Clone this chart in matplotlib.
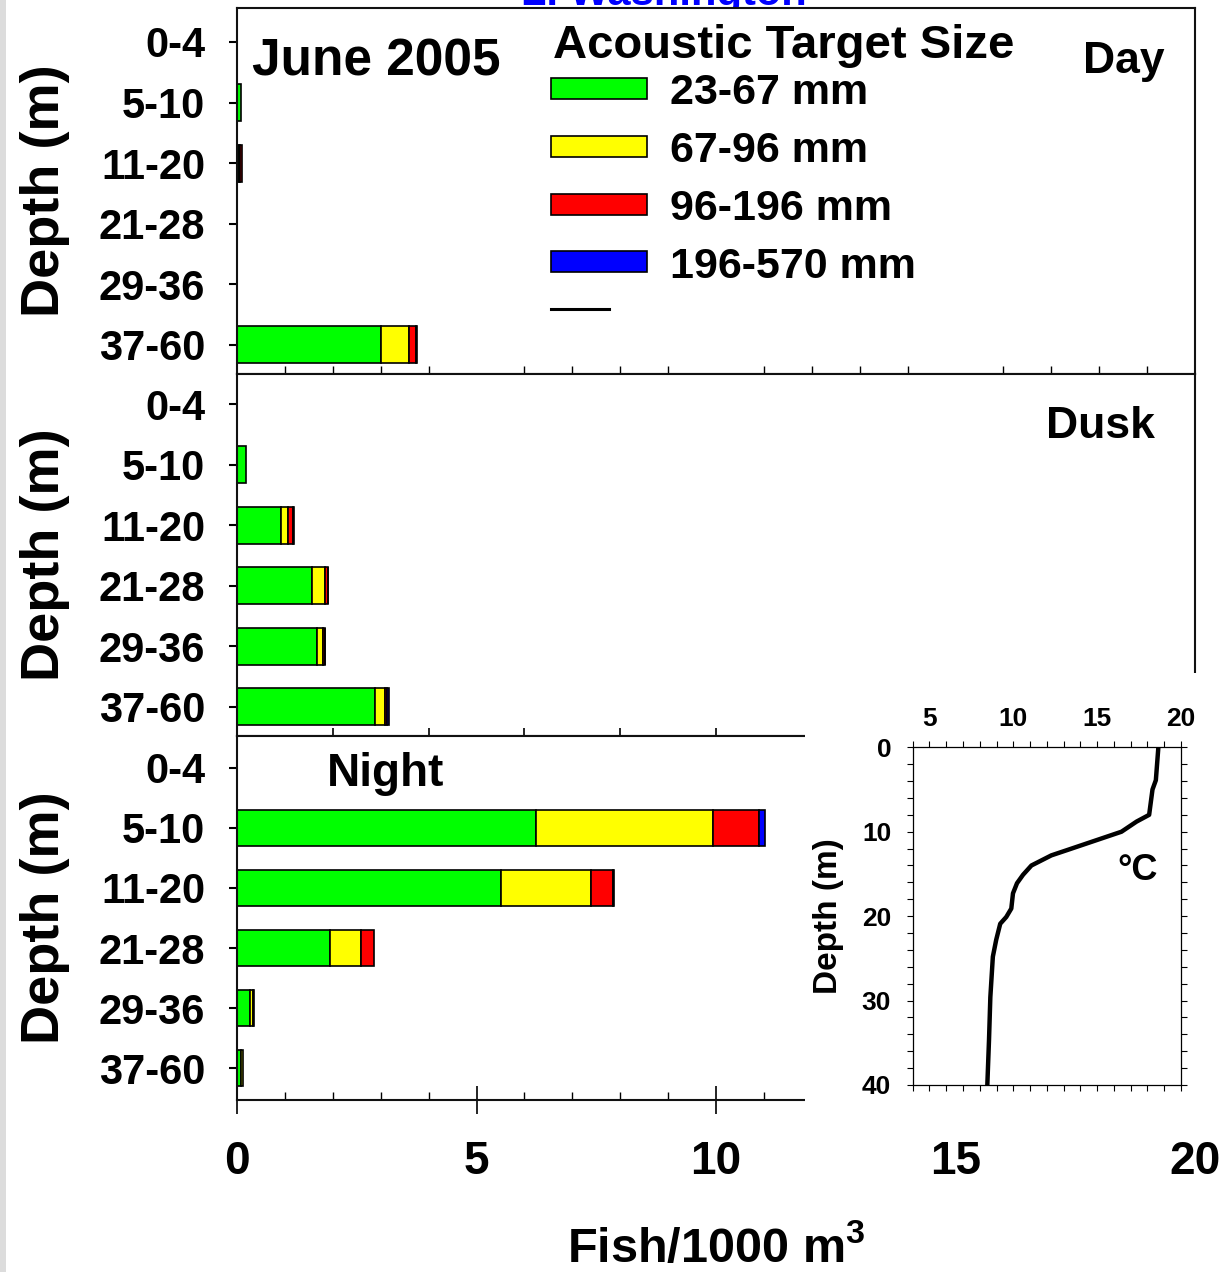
import matplotlib

matplotlib.use("Agg")
import matplotlib.pyplot as plt
from matplotlib.lines import Line2D
from matplotlib.patches import Rectangle
from matplotlib.ticker import MultipleLocator

W, H = 1225, 1272

DEPTH_BINS = ["0-4", "5-10", "11-20", "21-28", "29-36", "37-60"]
SIZE_CLASSES = ["23-67 mm", "67-96 mm", "96-196 mm", "196-570 mm"]
SIZE_COLORS = ["#00ff00", "#ffff00", "#ff0000", "#0000ff"]

# fish density (fish / 1000 m^3) per depth bin, by acoustic target size
day_23_67 = [0, 0.08, 0.05, 0, 0, 3.00]
day_67_96 = [0, 0, 0.01, 0, 0, 0.59]
day_96_196 = [0, 0, 0.04, 0, 0, 0.14]
day_196_570 = [0, 0, 0, 0, 0, 0.03]

dusk_23_67 = [0, 0.19, 0.92, 1.57, 1.66, 2.89]
dusk_67_96 = [0, 0, 0.14, 0.27, 0.14, 0.19]
dusk_96_196 = [0, 0, 0.10, 0.05, 0.03, 0.06]
dusk_196_570 = [0, 0, 0.03, 0.02, 0.01, 0.04]

night_23_67 = [0, 6.24, 5.52, 1.95, 0.28, 0.09]
night_67_96 = [0, 3.70, 1.87, 0.64, 0.05, 0.03]
night_96_196 = [0, 0.96, 0.46, 0.28, 0.03, 0]
night_196_570 = [0, 0.12, 0.02, 0, 0, 0]

# temperature profile
temp_depth = [0, 3.9, 5, 8, 8.8, 10, 11, 12.2, 12.8, 14, 15.1, 16.1, 17.3, 19.1,
              20.1, 20.9, 22.8, 24.8, 29.6, 34.7, 40]
temp_c = [18.65, 18.5, 18.3, 18.1, 17.35, 16.45, 14.96, 13.17, 12.27, 11.08, 10.58,
          10.22, 9.98, 9.88, 9.58, 9.22, 8.98, 8.78, 8.63, 8.55, 8.45]

BAR_HEIGHT = 0.61


def _fx(px):
    return px / W


def _fy(py):
    return 1 - py / H


def _rect(left, top, right, bottom):
    return [left / W, 1 - bottom / H, (right - left) / W, (bottom - top) / H]


def _draw_bars(ax, stacks):
    left = [0.0] * len(DEPTH_BINS)
    for values, color in zip(stacks, SIZE_COLORS):
        idx = [i for i, v in enumerate(values) if v > 0]
        ax.barh(idx, [values[i] for i in idx], left=[left[i] for i in idx],
                height=BAR_HEIGHT, color=color, edgecolor="black", linewidth=1.2)
        left = [a + b for a, b in zip(left, values)]


def _style_panel(fig, ax, ylim, top, bottom):
    ax.set_xlim(0, 20)
    ax.set_ylim(*ylim)
    ax.set_yticks(range(len(DEPTH_BINS)))
    ax.set_yticklabels(DEPTH_BINS)
    ax.tick_params(axis="y", direction="out", length=6, width=1.5, pad=17, labelsize=30)
    for sp in ax.spines.values():
        sp.set_linewidth(1.5)
        sp.set_color("#111111")
    fig.text(_fx(45), _fy((top + bottom) / 2), "Depth (m)", rotation=90,
             ha="center", va="center", fontsize=39)


def main():
    plt.rcParams["font.family"] = ["Liberation Sans", "DejaVu Sans"]
    plt.rcParams["font.weight"] = "bold"
    plt.rcParams["mathtext.fontset"] = "custom"
    plt.rcParams["mathtext.rm"] = "Liberation Sans:bold"
    plt.rcParams["mathtext.bf"] = "Liberation Sans:bold"
    plt.rcParams["mathtext.default"] = "bf"

    fig = plt.figure(figsize=(W / 100, H / 100), dpi=100)

    ax_day = fig.add_axes(_rect(237, 8, 1195, 374))
    ax_dusk = fig.add_axes(_rect(237, 374, 1195, 736))
    ax_night = fig.add_axes(_rect(237, 736, 1195, 1100))

    _draw_bars(ax_day, [day_23_67, day_67_96, day_96_196, day_196_570])
    _draw_bars(ax_dusk, [dusk_23_67, dusk_67_96, dusk_96_196, dusk_196_570])
    _draw_bars(ax_night, [night_23_67, night_67_96, night_96_196, night_196_570])

    _style_panel(fig, ax_day, (5.48, -0.56), 8, 374)
    _style_panel(fig, ax_dusk, (5.48, -0.5), 374, 736)
    _style_panel(fig, ax_night, (5.53, -0.53), 736, 1100)

    ax_day.xaxis.set_major_locator(MultipleLocator(5))
    ax_day.xaxis.set_minor_locator(MultipleLocator(1))
    ax_day.tick_params(axis="x", which="major", direction="out", length=10, width=1.2,
                       labelbottom=False)
    ax_day.tick_params(axis="x", which="minor", direction="in", length=5.5, width=1)

    ax_dusk.xaxis.set_major_locator(MultipleLocator(2))
    ax_dusk.tick_params(axis="x", direction="in", length=5.5, width=1.2, labelbottom=False)

    ax_night.xaxis.set_major_locator(MultipleLocator(5))
    ax_night.xaxis.set_minor_locator(MultipleLocator(1))
    ax_night.tick_params(axis="x", which="major", direction="inout", length=20, width=1.2,
                         labelsize=33, pad=19)
    ax_night.tick_params(axis="x", which="minor", direction="in", length=5.5, width=1)

    # panel labels
    fig.text(_fx(252), _fy(76), "June 2005", ha="left", va="baseline", fontsize=37)
    fig.text(_fx(1165), _fy(73), "Day", ha="right", va="baseline", fontsize=32)
    fig.text(_fx(1155), _fy(438), "Dusk", ha="right", va="baseline", fontsize=32)
    fig.text(_fx(327), _fy(786), "Night", ha="left", va="baseline", fontsize=33)

    # size-class key
    fig.text(_fx(553), _fy(58), "Acoustic Target Size", ha="left", va="baseline",
             fontsize=34)
    for k, (label, color) in enumerate(zip(SIZE_CLASSES, SIZE_COLORS)):
        yc = 88 + 58 * k
        fig.patches.append(Rectangle((_fx(551), _fy(yc + 10.5)), 96 / W, 21 / H,
                                     transform=fig.transFigure, facecolor=color,
                                     edgecolor="black", linewidth=1.2, zorder=3))
        fig.text(_fx(670), _fy(yc + 15.5), label, ha="left", va="baseline", fontsize=31)
    fig.lines.append(Line2D([_fx(551), _fx(609)], [_fy(309), _fy(309)],
                            transform=fig.transFigure, color="black", linewidth=2.2))

    fig.text(_fx(716), _fy(1262), "Fish/1000 m$^{3}$", ha="center", va="baseline",
             fontsize=35)

    fig.text(_fx(664), _fy(5), "L. Washington", ha="center", va="baseline",
             fontsize=30, color="#0000ff", zorder=-1)

    # blank area behind the temperature profile
    fig.patches.append(Rectangle((_fx(805), _fy(1115)), 1 - _fx(805), (1115 - 673) / H,
                                 transform=fig.transFigure, facecolor="white",
                                 edgecolor="none", zorder=1))
    fig.patches.append(Rectangle((0, 0), 6 / W, 1, transform=fig.transFigure,
                                 facecolor="#dcdcdc", edgecolor="none", zorder=4))

    ins = fig.add_axes(_rect(912.7, 747.3, 1181, 1085), zorder=2)
    ins.plot(temp_c, temp_depth, color="black", linewidth=3.2)
    ins.set_xlim(4, 20)
    ins.set_ylim(40, 0)
    ins.set_xticks([5, 10, 15, 20])
    ins.xaxis.set_minor_locator(MultipleLocator(1))
    ins.set_yticks([0, 10, 20, 30, 40])
    ins.yaxis.set_minor_locator(MultipleLocator(2))
    ins.tick_params(which="both", direction="out", length=4.5, width=0.8,
                    top=True, bottom=True, left=True, right=True,
                    labeltop=True, labelbottom=False, labelsize=19)
    ins.tick_params(axis="x", pad=7)
    ins.tick_params(axis="y", pad=11)
    for sp in ins.spines.values():
        sp.set_linewidth(0.9)
    ins.text(16.2, 15.7, "°C", ha="left", va="baseline", fontsize=26)
    fig.text(_fx(829), _fy(916), "Depth (m)", rotation=90, ha="center", va="center",
             fontsize=24, zorder=3)

    fig.savefig("out.png", dpi=100)


if __name__ == "__main__":
    main()
